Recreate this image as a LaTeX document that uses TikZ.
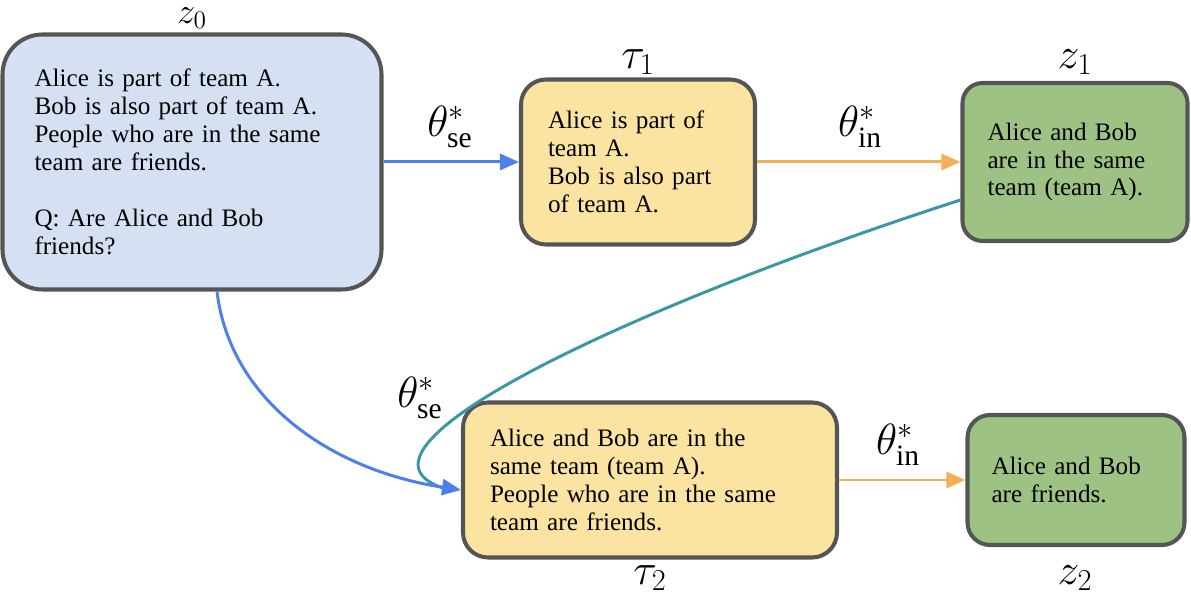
\documentclass[tikz,border=0pt]{standalone}
\usepackage{fontspec}
\setmainfont{Liberation Serif}
\usetikzlibrary{arrows.meta}

\definecolor{qblue}{HTML}{D5E1F2}
\definecolor{qyellow}{HTML}{FBE3A1}
\definecolor{qgreen}{HTML}{9DC284}
\definecolor{qedge}{HTML}{555555}
\definecolor{seblue}{HTML}{4F80EA}
\definecolor{inorange}{HTML}{F2AF57}
\definecolor{loopteal}{HTML}{3A98A4}

\begin{document}
\begin{tikzpicture}[
    box/.style={draw=qedge, line width=2.3pt, inner xsep=0pt, inner ysep=0pt,
        align=left, font=\fontsize{14.3}{15.9}\selectfont},
    lbl/.style={inner sep=0pt, font=\fontsize{24}{28}\selectfont},
    tip/.style={-{Triangle[length=0.38cm,width=0.32cm]}, line width=1.7pt}
]
    \useasboundingbox (0,0) rectangle (23.82,12.04);
    % Boxes
    \node[box, fill=qblue, rounded corners=0.8cm, minimum width=7.58cm, minimum height=5.10cm, text width=6.30cm] (z0) at (3.84,8.80)
        {Alice is part of team A.\\ Bob is also part of team A.\\ People who are in the same\\ team are friends.\\[0.56cm] Q: Are Alice and Bob\\ friends?};
    \node[box, fill=qyellow, rounded corners=0.5cm, minimum width=4.68cm, minimum height=3.30cm, text width=3.60cm] (t1) at (12.76,8.80)
        {Alice is part of\\ team A.\\ Bob is also part\\ of team A.};
    \node[box, fill=qgreen, rounded corners=0.4cm, minimum width=4.50cm, minimum height=3.16cm, text width=3.50cm] (z1) at (21.50,8.80)
        {Alice and Bob\\ are in the same\\ team (team A).};
    \node[box, fill=qyellow, rounded corners=0.5cm, minimum width=7.48cm, minimum height=3.10cm, text width=6.40cm] (t2) at (13.00,2.44)
        {Alice and Bob are in the\\ same team (team A).\\ People who are in the same\\ team are friends.};
    \node[box, fill=qgreen, rounded corners=0.45cm, minimum width=4.34cm, minimum height=2.60cm, text width=3.38cm] (z2) at (21.52,2.44)
        {Alice and Bob\\ are friends.};

    % Labels
    \node[lbl, font=\fontsize{22}{26}\selectfont] (lz0) at (3.84,11.68) {$z_0$};
    \node[lbl] (lt1) at (12.76,10.80) {$\tau_1$};
    \node[lbl] (lz1) at (21.50,10.80) {$z_1$};
    \node[lbl] (lt2) at (13.00,0.48) {$\tau_2$};
    \node[lbl] (lz2) at (21.50,0.48) {$z_2$};
    \node[lbl] (se1) at (9.00,9.50) {$\theta^{*}_{\mathrm{se}}$};
    \node[lbl] (in1) at (17.20,9.50) {$\theta^{*}_{\mathrm{in}}$};
    \node[lbl] (se2) at (8.40,4.08) {$\theta^{*}_{\mathrm{se}}$};
    \node[lbl] (in2) at (17.96,3.14) {$\theta^{*}_{\mathrm{in}}$};

    % Edges
    \coordinate (tend) at ([xshift=-0.36cm, yshift=-0.16cm]t2.west);
    \draw[loopteal, line width=1.7pt] ([yshift=-0.76cm]z1.west) .. controls (12.40,5.84) and (6.60,3.04) .. (tend);
    \draw[tip, seblue] ([xshift=0.5cm]z0.south) .. controls (4.60,4.04) and (6.60,2.64) .. ([yshift=-0.2cm]t2.west);
    \draw[tip, seblue] (z0.east) -- (t1.west);
    \draw[tip, inorange] (t1.east) -- (z1.west);
    \draw[tip, inorange] (t2.east) -- (z2.west);
\end{tikzpicture}
\end{document}
